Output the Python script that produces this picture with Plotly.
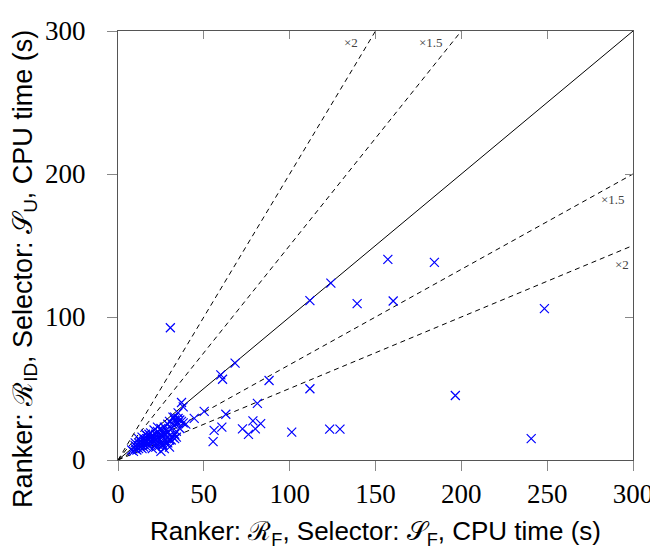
import plotly.graph_objects as go

# Outlying points (Ranker R_F/S_F time vs R_ID/S_U time)
x_out = [30.5, 111.8, 124.0, 139.3, 157.2, 160.3, 184.3, 248.4, 111.8, 196.5, 240.7,
         101.2, 123.3, 129.3, 68.2, 59.9, 60.9, 88.0, 81.2, 50.2, 62.8, 37.0, 38.0,
         44.4, 78.6, 83.1, 80.0, 72.5, 60.5, 76.0, 56.0, 55.4, 39.5]
y_out = [92.5, 111.4, 123.7, 109.3, 140.3, 111.2, 138.2, 105.9, 49.8, 45.1, 14.9,
         19.5, 21.6, 21.6, 67.7, 59.5, 56.5, 55.6, 39.6, 34.0, 32.0, 40.2, 37.2,
         29.1, 27.4, 25.4, 21.8, 21.8, 23.0, 17.9, 20.7, 12.8, 25.1]

# Dense cluster near the origin
x_cl = [8, 9, 10, 10, 11, 11, 12, 12, 12, 13, 13, 13, 14, 14, 14, 15, 15, 15, 16, 16,
        16, 17, 17, 17, 18, 18, 18, 19, 19, 20, 20, 20, 21, 21, 22, 22, 22, 23, 23, 24,
        24, 25, 25, 25, 26, 26, 27, 27, 28, 28, 29, 29, 30, 30, 31, 32, 32, 33, 33, 34,
        35, 35, 36, 20, 22, 24, 26, 28, 30, 32, 27, 30, 25, 23, 19, 17, 15, 21, 18, 10,
        12, 14, 16, 33, 35, 36, 37, 38, 34, 31, 33, 34, 29, 26]
y_cl = [7, 6, 8, 10, 7, 9, 10, 8, 12, 9, 11, 13, 10, 8, 12, 11, 13, 9, 12, 14,
        10, 11, 13, 15, 12, 14, 10, 13, 16, 12, 14, 17, 13, 15, 14, 18, 11, 16, 20, 15,
        19, 13, 17, 22, 16, 20, 18, 23, 15, 21, 25, 19, 27, 17, 22, 30, 25, 18, 28, 20,
        26, 33, 22, 8, 9, 10, 11, 12, 14, 16, 8, 9, 6, 23, 19, 17, 15, 21, 18, 12,
        15, 16, 18, 30, 29, 28, 27, 26, 26, 14, 15, 16, 12, 10]

ratios = [2, 1.5, 1 / 1.5, 0.5]
ratio_labels = ["×2", "×1.5", "×1.5", "×2"]
label_x = [136.0, 182.5, 288.5, 293.5]
label_y = [292.0, 292.0, 182.5, 137.0]

x_ticks = [0, 50, 100, 150, 200, 250, 300]
y_ticks = [0, 100, 200, 300]
AX_MAX = 300

X_TITLE = "Ranker: ℛ<sub>F</sub>, Selector: 𝒮<sub>F</sub>, CPU time (s)"
Y_TITLE = "Ranker: ℛ<sub>ID</sub>, Selector: 𝒮<sub>U</sub>, CPU time (s)"

fig = go.Figure()

# diagonal y = x
fig.add_trace(go.Scatter(x=[0, AX_MAX], y=[0, AX_MAX], mode="lines",
                         line=dict(color="black", width=1), hoverinfo="skip"))
for r in ratios:
    xe = min(AX_MAX, AX_MAX / r)
    fig.add_trace(go.Scatter(x=[0, xe], y=[0, xe * r], mode="lines",
                             line=dict(color="black", width=1, dash="5px,4px"),
                             hoverinfo="skip"))

fig.add_trace(go.Scatter(x=x_cl + x_out, y=y_cl + y_out, mode="markers",
                         marker=dict(symbol="x-thin", size=9,
                                     line=dict(color="#0000ff", width=1.2),
                                     color="#0000ff")))

for t, lx, ly in zip(ratio_labels, label_x, label_y):
    fig.add_annotation(x=lx, y=ly, text=t, showarrow=False,
                       font=dict(family="Liberation Serif", size=13, color="#444"))

serif = dict(family="Liberation Serif", size=27, color="black")
sans = dict(family="Liberation Sans", size=26, color="black")

# y-axis title placed as a rotated annotation (slightly below the axis centre)
fig.add_annotation(xref="paper", yref="paper", x=-0.181, y=0.445, text=Y_TITLE,
                   textangle=-90, showarrow=False, xanchor="center", yanchor="middle",
                   font=dict(family="Liberation Sans", size=27, color="black"))

# page body has an 8px margin, so the figure is shifted by (8, 8)
fig.update_layout(
    width=658, height=549,
    margin=dict(l=110, r=33, t=23, b=97, autoexpand=False),
    plot_bgcolor="white", paper_bgcolor="white",
    showlegend=False,
    xaxis=dict(range=[0, AX_MAX], tickvals=x_ticks, ticks="outside", ticklen=10,
               tickcolor="#888", showline=True, linecolor="#555", linewidth=1,
               showgrid=False, zeroline=False, tickfont=serif, automargin=False,
               ticklabelstandoff=0,
               title=dict(text=X_TITLE, font=sans, standoff=13)),
    yaxis=dict(range=[0, AX_MAX], tickvals=y_ticks, ticks="outside", ticklen=10,
               tickcolor="#888", showline=True, linecolor="#555", linewidth=1,
               showgrid=False, zeroline=False, tickfont=serif, automargin=False,
               ticklabelstandoff=16),
    xaxis2=dict(range=[0, AX_MAX], tickvals=x_ticks, ticks="inside", ticklen=8,
                tickcolor="#888", showline=True, linecolor="#555", linewidth=1,
                showgrid=False, zeroline=False, showticklabels=False,
                overlaying="x", side="top"),
    yaxis2=dict(range=[0, AX_MAX], tickvals=y_ticks, ticks="inside", ticklen=8,
                tickcolor="#888", showline=True, linecolor="#555", linewidth=1,
                showgrid=False, zeroline=False, showticklabels=False,
                overlaying="y", side="right"),
)
# dummy trace to activate the mirrored axes
fig.add_trace(go.Scatter(x=[None], y=[None], xaxis="x2", yaxis="y2", hoverinfo="skip"))

fig.write_html("out.html")
